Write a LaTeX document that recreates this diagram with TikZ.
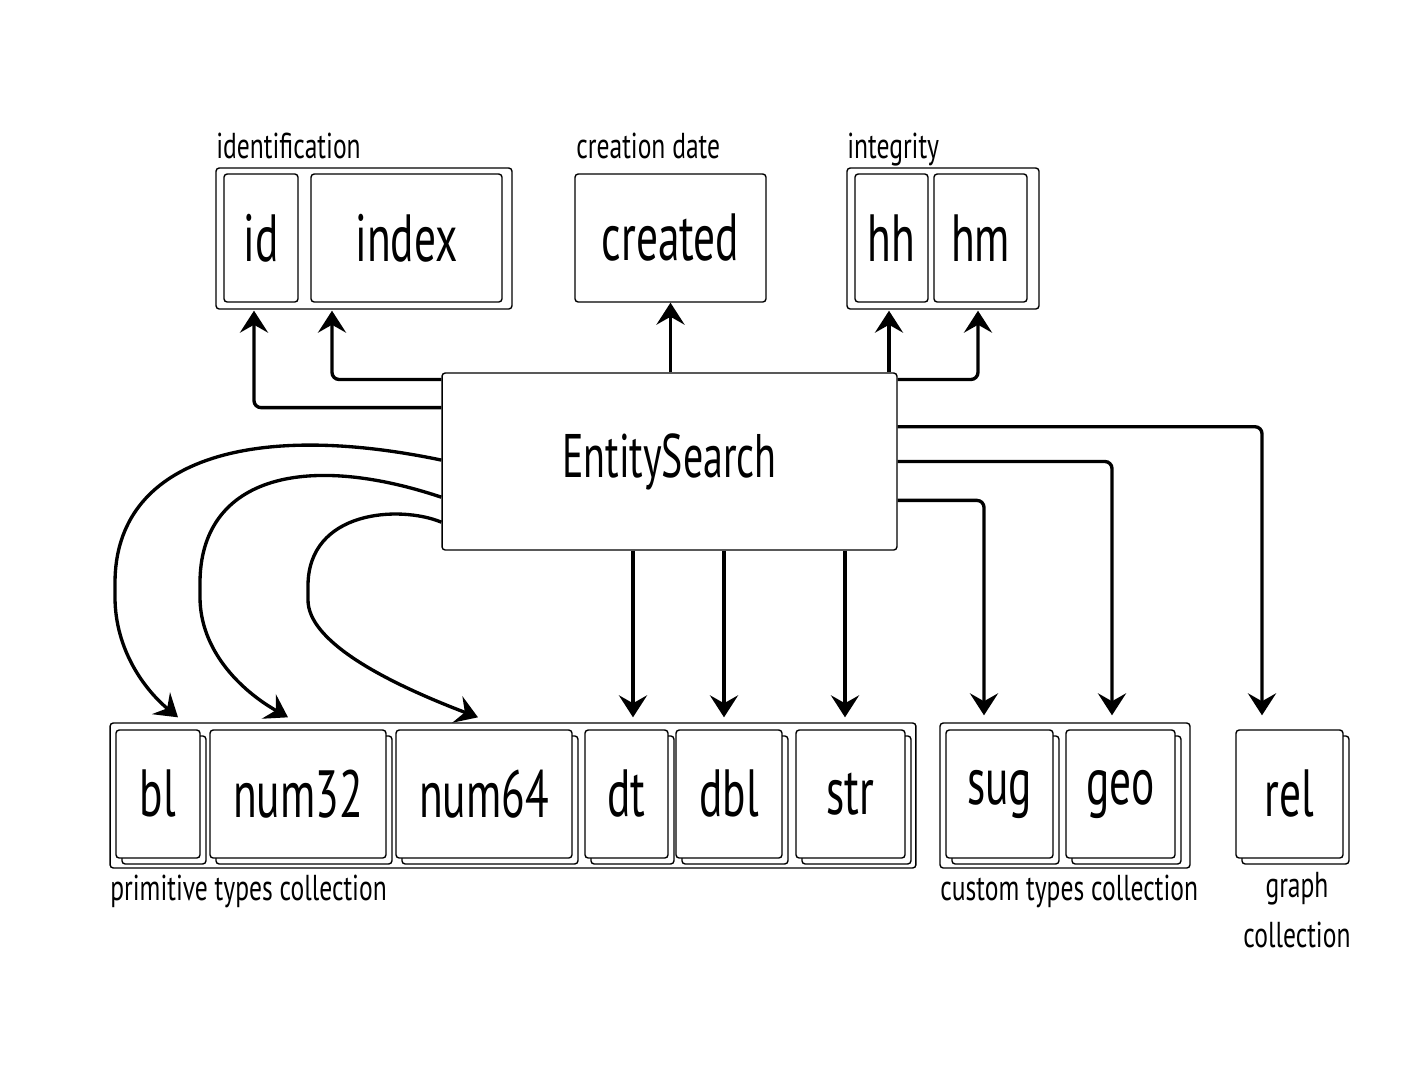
\documentclass[tikz,border=0pt]{standalone}
\usepackage{fontspec}
\setmainfont{PT Sans}[FakeStretch=0.65]
\newfontfamily\capfont{PT Sans}[FakeStretch=0.71]
\usetikzlibrary{calc,arrows.meta,shadows}

\begin{document}
\begin{tikzpicture}[x=0.02cm,y=-0.02cm,
        cell/.style={draw, line width=.8pt, rounded corners=1.8pt, fill=white, inner sep=0pt,
          minimum height=2.56cm, font=\fontsize{38}{40}\selectfont},
        stack/.style={cell, copy shadow={shadow xshift=3.4pt, shadow yshift=-3.4pt}},
        group/.style={draw, line width=.8pt, rounded corners=1.8pt, inner sep=0pt},
        caption/.style={inner sep=0pt, font=\capfont\fontsize{20.5}{27.9}\selectfont},
        link/.style={line width=1.9pt, rounded corners=4pt,
          -{Stealth[length=12.5pt, width=16pt, inset=4.5pt]}}]
        \useasboundingbox (0,0) rectangle (1418,1080);

        % top row
        \node[group, minimum width=5.92cm, minimum height=2.82cm] (idgrp) at (364,238.5) {};
        \node[cell, minimum width=1.48cm] (id)    at (261,238)   {id};
        \node[cell, minimum width=3.82cm] (index) at (406.5,238) {index};
        \node[cell, minimum width=3.82cm] (created) at (670.5,238) {created};
        \node[group, minimum width=3.84cm, minimum height=2.82cm] (integ) at (943,238.5) {};
        \node[cell, minimum width=1.46cm] (hh) at (891.5,238) {hh};
        \node[cell, minimum width=1.86cm] (hm) at (980.5,238) {hm};
        \node[caption, anchor=base west] (idlbl)  at (216,158) {identification};
        \node[caption, anchor=base west] (crlbl)  at (576,158) {creation date};
        \node[caption, anchor=base west] (intlbl) at (847,158) {integrity};

        % centre
        \node[draw, line width=.8pt, rounded corners=1.8pt, minimum width=9.1cm, minimum height=3.54cm,
          font=\fontsize{35}{40}\selectfont] (es) at (669.5,461.5) {EntitySearch};

        % bottom row
        \node[group, minimum width=16.12cm, minimum height=2.9cm] (prim) at (513,795.5) {};
        \node[stack, minimum width=1.68cm] (bl)    at (158,794)   {bl};
        \node[stack, minimum width=3.52cm] (num32) at (298,794)   {num32};
        \node[stack, minimum width=3.52cm] (num64) at (484,794)   {num64};
        \node[stack, minimum width=1.66cm] (dt)    at (626.5,794) {dt};
        \node[stack, minimum width=2.12cm] (dbl)   at (729,794)   {dbl};
        \node[stack, minimum width=2.18cm] (str)   at (850.5,794) {str};
        \node[group, minimum width=5cm, minimum height=2.9cm] (cust) at (1065,795.5) {};
        \node[stack, minimum width=2.14cm] (sug) at (999.5,794)  {sug};
        \node[stack, minimum width=2.18cm] (geo) at (1120.5,794) {geo};
        \node[stack, minimum width=2.14cm] (rel) at (1289.5,794) {rel};
        \node[caption, anchor=base west] (primlbl) at (110,900) {primitive types collection};
        \node[caption, anchor=base west] (custlbl) at (940,900) {custom types collection};
        \node[caption, anchor=base, align=center] (rellbl) at (1297,947) {graph\\collection};

        % arrow ends
        \coordinate (hhin)  at ($(hh.south)+(-2.5,8)$);
        \coordinate (dtin)  at ($(dt.north)+(6.5,-12)$);
        \coordinate (dblin) at ($(dbl.north)+(-5,-12)$);
        \coordinate (strin) at ($(str.north)+(-5.5,-12)$);
        \coordinate (blin)    at ($(bl.north)+(20,-12)$);
        \coordinate (num32in) at ($(num32.north)+(-10,-12)$);
        \coordinate (num64in) at ($(num64.north)+(-6,-12)$);

        % up
        \draw[link] ($(es.north west)!.198!(es.south west)$) -| ($(id.south)+(-7,8)$);
        \draw[link] ($(es.north west)!.04!(es.south west)$) -| ($(index.south)+(-74.5,8)$);
        \draw[link] (created.south |- es.north) -- (created.south);
        \draw[link] (hhin |- es.north) -- (hhin);
        \draw[link] ($(es.north east)!.04!(es.south east)$) -| ($(hm.south)+(-2.5,8)$);

        % down
        \draw[link] (dtin |- es.south) -- (dtin);
        \draw[link] (dblin |- es.south) -- (dblin);
        \draw[link] (strin |- es.south) -- (strin);
        \draw[link] ($(es.north east)!.718!(es.south east)$) -| ($(sug.north)+(-15.5,-14)$);
        \draw[link] (es.east) -| ($(geo.north)+(-8.5,-14)$);
        \draw[link] ($(es.north east)!.305!(es.south east)$) -| ($(rel.north)+(-27.5,-14)$);

        % curved
        \draw[link] ($(es.north west)!.492!(es.south west)$) .. controls (250,420) and (115,460) .. (115,590)
          .. controls (115,650) and (145,690) .. (blin);
        \draw[link] ($(es.north west)!.70!(es.south west)$) .. controls (300,450) and (200,480) .. (200,590)
          .. controls (200,650) and (240,690) .. (num32in);
        \draw[link] ($(es.north west)!.84!(es.south west)$) .. controls (400,505) and (308,510) .. (308,593)
          .. controls (308,640) and (380,680) .. (num64in);
\end{tikzpicture}
\end{document}
